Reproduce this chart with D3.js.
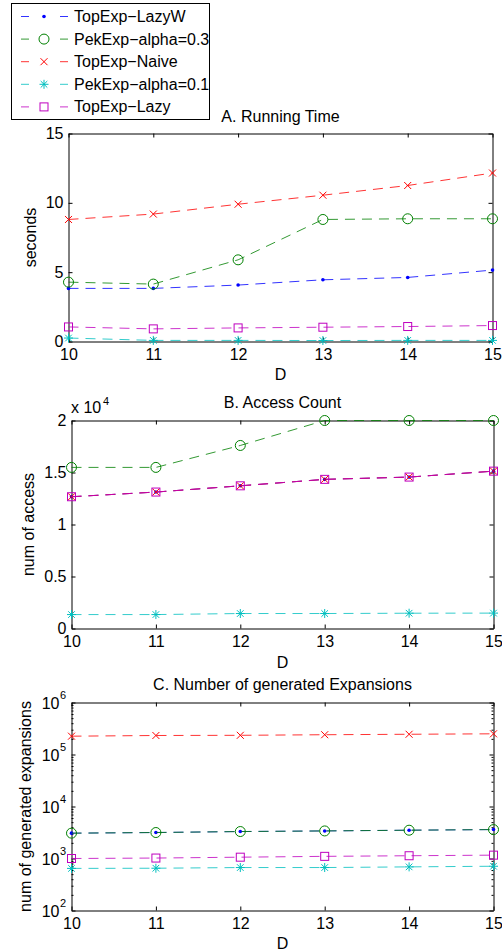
<!DOCTYPE html>
<html><head><meta charset="utf-8">
<script src="https://cdn.jsdelivr.net/npm/d3@7"></script>
<style>
body{margin:0;background:#fff;}
svg{display:block;}
text{font-family:"Liberation Sans",Arial,Helvetica,sans-serif;fill:#000;}
</style></head>
<body>
<script>
// ---------- data ----------
const D = [10, 11, 12, 13, 14, 15];
const seriesNames = ["TopExp\u2212LazyW", "PekExp\u2212alpha=0.3", "TopExp\u2212Naive", "PekExp\u2212alpha=0.1", "TopExp\u2212Lazy"];
const seriesColors = ["#0000ff", "#008000", "#ff0000", "#00bfbf", "#bf00bf"];
const seriesMarkers = ["dot", "circle", "x", "star", "square"];

// A. Running Time (seconds)
const timeLazyW   = [3.83, 3.83, 4.07, 4.45, 4.62, 5.15];
const timeAlpha03 = [4.28, 4.14, 5.89, 8.80, 8.85, 8.85];
const timeNaive   = [8.80, 9.19, 9.90, 10.55, 11.25, 12.15];
const timeAlpha01 = [0.25, 0.08, 0.08, 0.07, 0.08, 0.08];
const timeLazy    = [1.05, 0.91, 0.98, 1.03, 1.08, 1.15];

// B. Access Count
const accessLazyW   = [12670, 13120, 13720, 14340, 14560, 15130];
const accessAlpha03 = [15490, 15490, 17600, 20000, 20000, 20000];
const accessNaive   = [12670, 13120, 13720, 14340, 14560, 15130];
const accessAlpha01 = [1340, 1340, 1440, 1440, 1470, 1480];
const accessLazy    = [12670, 13120, 13720, 14340, 14560, 15130];

// C. Number of generated Expansions
const expLazyW   = [3070, 3160, 3300, 3390, 3500, 3600];
const expAlpha03 = [3070, 3160, 3300, 3390, 3500, 3600];
const expNaive   = [225000, 232000, 234000, 240000, 245000, 250000];
const expAlpha01 = [645, 650, 670, 670, 690, 710];
const expLazy    = [1000, 1020, 1060, 1100, 1130, 1160];

const ticksA = [0, 5, 10, 15];
const ticksB = [0, 0.5, 1, 1.5, 2];
const ticksC = [1e2, 1e3, 1e4, 1e5, 1e6];

// ---------- drawing ----------
const W = 502, H = 952, FS = 16;
const svg = d3.select("body").append("svg").attr("width", W).attr("height", H);

function marker(g, type, color, x, y) {
  if (type === "dot") {
    g.append("circle").attr("cx", x).attr("cy", y).attr("r", 1.8).attr("fill", color);
  } else if (type === "circle") {
    g.append("circle").attr("cx", x).attr("cy", y).attr("r", 5).attr("fill", "none").attr("stroke", color).attr("stroke-width", 1);
  } else if (type === "x") {
    g.append("path").attr("d", `M${x-3.5},${y-3.5}L${x+3.5},${y+3.5}M${x-3.5},${y+3.5}L${x+3.5},${y-3.5}`).attr("stroke", color).attr("stroke-width", 1);
  } else if (type === "star") {
    g.append("path").attr("d", `M${x-4.5},${y}H${x+4.5}M${x},${y-4.5}V${y+4.5}M${x-3.3},${y-3.3}L${x+3.3},${y+3.3}M${x-3.3},${y+3.3}L${x+3.3},${y-3.3}`).attr("stroke", color).attr("stroke-width", 1);
  } else if (type === "square") {
    g.append("rect").attr("x", x-4).attr("y", y-4).attr("width", 8).attr("height", 8).attr("fill", "none").attr("stroke", color).attr("stroke-width", 1);
  }
}

function styleAxis(g) {
  g.selectAll("path.domain").attr("stroke", "#000").attr("stroke-width", 1);
  g.selectAll(".tick line").attr("stroke", "#000").attr("stroke-width", 1);
  g.attr("font-family", null).attr("font-size", null);
  g.selectAll("text").style("font-size", FS + "px");
}

function panel(opts) {
  const {left, right, top, bottom, yScale, yTicks, yFormat, series, title, titleY, ylabel, ylabelX, xLabelY, log} = opts;
  const x = d3.scaleLinear().domain([10, 15]).range([left, right]);
  const y = yScale.range([bottom, top]);
  const g = svg.append("g");

  const xb = g.append("g").attr("transform", `translate(0,${bottom})`)
    .call(d3.axisBottom(x).tickValues(D).tickFormat(d3.format("d")).tickSize(-4).tickSizeOuter(0).tickPadding(7));
  styleAxis(xb);
  const xt = g.append("g").attr("transform", `translate(0,${top})`)
    .call(d3.axisTop(x).tickValues(D).tickFormat("").tickSize(-4).tickSizeOuter(0));
  styleAxis(xt);
  const yl = g.append("g").attr("transform", `translate(${left},0)`)
    .call(d3.axisLeft(y).tickValues(yTicks).tickFormat(log ? "" : yFormat).tickSize(-4).tickSizeOuter(0).tickPadding(5));
  styleAxis(yl);
  const yr = g.append("g").attr("transform", `translate(${right},0)`)
    .call(d3.axisRight(y).tickValues(yTicks).tickFormat("").tickSize(-4).tickSizeOuter(0));
  styleAxis(yr);

  if (log) {
    const minors = [];
    for (let e = 2; e < 6; e++) for (let m = 2; m <= 9; m++) minors.push(m * Math.pow(10, e));
    const ml = g.append("g").attr("transform", `translate(${left},0)`)
      .call(d3.axisLeft(y).tickValues(minors).tickFormat("").tickSize(-2).tickSizeOuter(0));
    styleAxis(ml); ml.select("path.domain").remove();
    const mr = g.append("g").attr("transform", `translate(${right},0)`)
      .call(d3.axisRight(y).tickValues(minors).tickFormat("").tickSize(-2).tickSizeOuter(0));
    styleAxis(mr); mr.select("path.domain").remove();
    yTicks.forEach(v => {
      g.append("text").attr("x", left - 12).attr("y", y(v) + 6).attr("text-anchor", "end").style("font-size", FS + "px").text("10");
      g.append("text").attr("x", left - 11.5).attr("y", y(v) - 3.5).attr("text-anchor", "start").style("font-size", "11px")
        .text(String(Math.round(Math.log10(v))));
    });
  }

  series.forEach((vals, i) => {
    const pts = D.map((d, j) => [x(d), y(vals[j])]);
    g.append("path").attr("d", d3.line()(pts)).attr("fill", "none")
      .attr("stroke", seriesColors[i]).attr("stroke-width", 1).attr("stroke-opacity", 0.8)
      .attr("stroke-dasharray", "10,7");
    const mg = g.append("g");
    pts.forEach(p => marker(mg, seriesMarkers[i], seriesColors[i], p[0], p[1]));
  });

  g.append("text").attr("x", (left + right) / 2).attr("y", titleY).attr("text-anchor", "middle").style("font-size", FS + "px").text(title);
  g.append("text").attr("x", (left + right) / 2).attr("y", xLabelY).attr("text-anchor", "middle").style("font-size", FS + "px").text("D");
  g.append("text").attr("transform", `translate(${ylabelX},${(top + bottom) / 2}) rotate(-90)`)
    .attr("text-anchor", "middle").style("font-size", FS + "px").text(ylabel);
  return {x, y, g};
}

panel({
  left: 68.5, right: 492.5, top: 133.5, bottom: 341.5,
  yScale: d3.scaleLinear().domain([0, 15]), yTicks: ticksA, yFormat: d3.format("d"),
  series: [timeLazyW, timeAlpha03, timeNaive, timeAlpha01, timeLazy],
  title: "A. Running Time", titleY: 121.5, ylabel: "seconds", ylabelX: 36, xLabelY: 380
});

const pB = panel({
  left: 71.5, right: 493.5, top: 420.5, bottom: 628.5,
  yScale: d3.scaleLinear().domain([0, 20000]), yTicks: ticksB.map(v => v * 1e4), yFormat: v => String(v / 1e4),
  series: [accessLazyW, accessAlpha03, accessNaive, accessAlpha01, accessLazy],
  title: "B. Access Count", titleY: 408, ylabel: "num of access", ylabelX: 34, xLabelY: 667.5
});
pB.g.append("text").attr("x", 71).attr("y", 412.5).style("font-size", FS + "px").text("x 10");
pB.g.append("text").attr("x", 103).attr("y", 404.5).style("font-size", "11px").text("4");

panel({
  left: 71.5, right: 493.5, top: 702.5, bottom: 910.5,
  yScale: d3.scaleLog().domain([1e2, 1e6]), yTicks: ticksC, log: true,
  series: [expLazyW, expAlpha03, expNaive, expAlpha01, expLazy],
  title: "C. Number of generated Expansions", titleY: 690, ylabel: "num of generated expansions", ylabelX: 31, xLabelY: 948.5
});

const lg = svg.append("g");
lg.append("rect").attr("x", 11.5).attr("y", 3.5).attr("width", 198).attr("height", 116)
  .attr("fill", "#fff").attr("stroke", "#000").attr("stroke-width", 1);
seriesNames.forEach((name, i) => {
  const cy = 16.5 + i * 22.6;
  lg.append("path").attr("d", `M21,${cy}H29M60,${cy}H68`).attr("stroke", seriesColors[i]).attr("stroke-width", 1).attr("stroke-opacity", 0.8);
  marker(lg, seriesMarkers[i], seriesColors[i], 44, cy);
  lg.append("text").attr("x", 74).attr("y", cy + 5.5).style("font-size", FS + "px").text(name);
});
</script>
</body></html>
